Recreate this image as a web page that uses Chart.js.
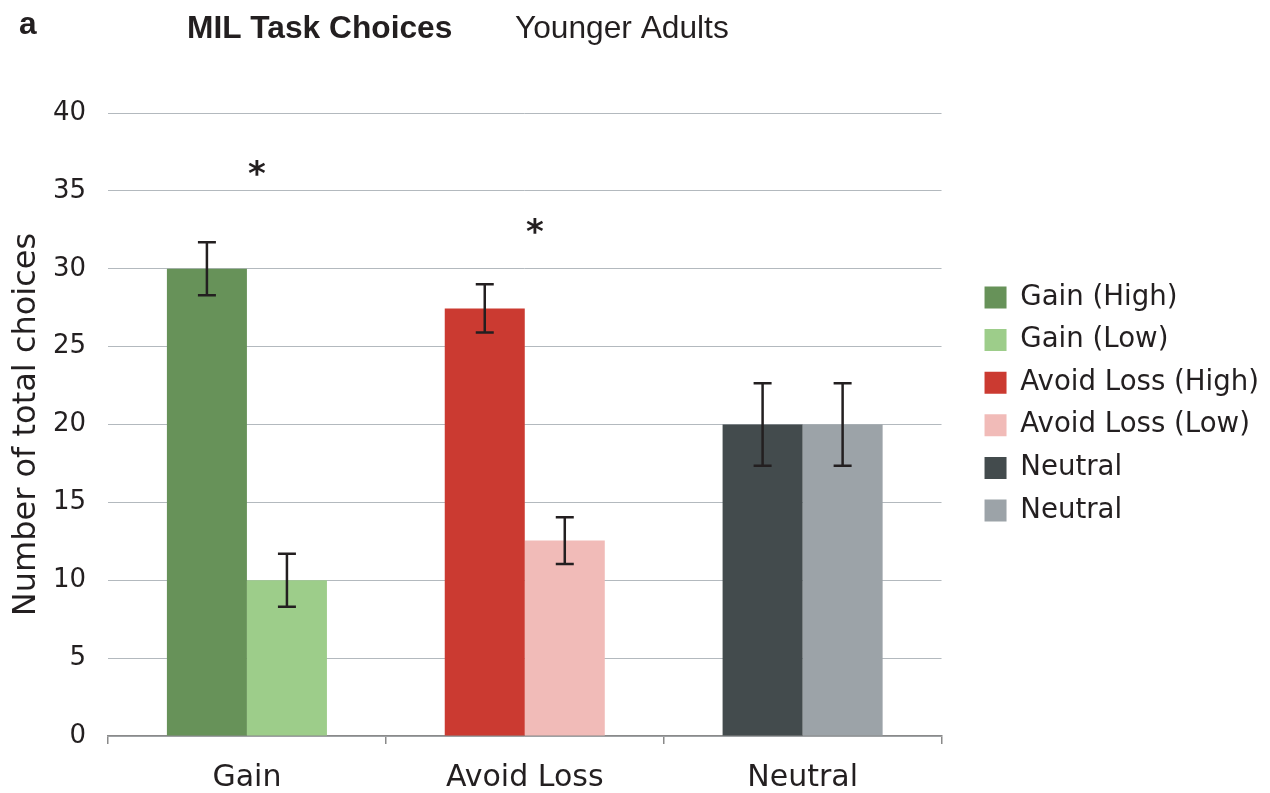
<!DOCTYPE html>
<html>
<head>
<meta charset="utf-8">
<script src="https://cdn.jsdelivr.net/npm/chart.js@4.4.1/dist/chart.umd.min.js"></script>
<style>
  html, body { margin: 0; padding: 0; background: #fff; }
  #wrap { width: 1270px; height: 793px; }
</style>
</head>
<body>
<div id="wrap"><canvas id="chart" width="1270" height="793"></canvas></div>
<script>
const categories = ['Gain', 'Avoid Loss', 'Neutral'];
const seriesLabels = ['Gain (High)', 'Gain (Low)', 'Avoid Loss (High)', 'Avoid Loss (Low)', 'Neutral', 'Neutral'];
const seriesColors = ['#679259', '#9dcd8a', '#cb3a31', '#f1bbb8', '#434b4d', '#9ca3a8'];

// one value per category, null where the series has no bar
const gainHigh = [30, null, null];
const gainLow = [10, null, null];
const lossHigh = [null, 27.45, null];
const lossLow = [null, 12.55, null];
const neutralA = [null, null, 20];
const neutralB = [null, null, 20];

const gainHighErr = [1.7, null, null];
const gainLowErr = [1.7, null, null];
const lossHighErr = [null, 1.55, null];
const lossLowErr = [null, 1.5, null];
const neutralAErr = [null, null, 2.65];
const neutralBErr = [null, null, 2.65];

const starValues = [36.3, 32.6, null];
const yTicks = [0, 5, 10, 15, 20, 25, 30, 35, 40];

const seriesValues = [gainHigh, gainLow, lossHigh, lossLow, neutralA, neutralB];
const seriesErrors = [gainHighErr, gainLowErr, lossHighErr, lossLowErr, neutralAErr, neutralBErr];

const TEXT = '#231f20';
const FONT = "'DejaVu Sans', Verdana, sans-serif";

const errorBars = {
    id: 'errorBars',
    afterDatasetsDraw(chart) {
        const ctx = chart.ctx;
        const y = chart.scales.y;
        ctx.save();
        ctx.strokeStyle = TEXT;
        ctx.lineWidth = 2.5;
        seriesErrors.forEach((errs, i) => {
            const meta = chart.getDatasetMeta(i);
            errs.forEach((e, j) => {
                const v = seriesValues[i][j];
                if (e == null || v == null) return;
                const x = meta.data[j].x;
                const top = y.getPixelForValue(v + e);
                const bot = y.getPixelForValue(v - e);
                ctx.beginPath();
                ctx.moveTo(x, top); ctx.lineTo(x, bot);
                ctx.moveTo(x - 9, top); ctx.lineTo(x + 9, top);
                ctx.moveTo(x - 9, bot); ctx.lineTo(x + 9, bot);
                ctx.stroke();
            });
        });
        // significance stars
        const xs = chart.scales.x;
        ctx.fillStyle = TEXT;
        ctx.font = 'bold 34px ' + FONT;
        ctx.textAlign = 'center';
        ctx.textBaseline = 'middle';
        starValues.forEach((s, j) => {
            if (s == null) return;
            ctx.fillText('*', xs.getPixelForValue(j) + 10, y.getPixelForValue(s) + 6);
        });
        ctx.restore();
    }
};

const header = {
    id: 'header',
    afterDraw(chart) {
        const ctx = chart.ctx;
        ctx.save();
        ctx.fillStyle = TEXT;
        ctx.textBaseline = 'alphabetic';
        ctx.textAlign = 'left';
        ctx.font = "bold 31.7px 'Liberation Sans', Arial, sans-serif";
        ctx.fillText('a', 19, 34);
        ctx.fillText('MIL Task Choices', 187, 38);
        ctx.font = "31.7px 'Liberation Sans', Arial, sans-serif";
        ctx.fillText('Younger Adults', 515, 38);
        ctx.restore();
    }
};

new Chart(document.getElementById('chart'), {
    type: 'bar',
    data: {
        labels: categories,
        datasets: seriesLabels.map((label, i) => ({
            label,
            data: seriesValues[i],
            backgroundColor: seriesColors[i],
            borderWidth: 0,
            skipNull: true,
            categoryPercentage: 0.576,
            barPercentage: 1.0
        }))
    },
    options: {
        responsive: false,
        animation: false,
        layout: { padding: { top: 15, left: 0, right: 1, bottom: 0 } },
        plugins: {
            title: {
                display: true,
                text: ' ',
                font: { size: 31 },
                padding: { top: 0, bottom: 60.8 }
            },
            legend: {
                position: 'right',
                align: 'center',
                maxWidth: 330,
                labels: {
                    boxWidth: 22,
                    boxHeight: 22,
                    padding: 15,
                    color: TEXT,
                    font: { family: FONT, size: 27.6 }
                }
            },
            tooltip: { enabled: false }
        },
        scales: {
            x: {
                grid: {
                    offset: true,
                    drawOnChartArea: false,
                    drawTicks: true,
                    tickLength: 8,
                    color: '#8a8a8a',
                    lineWidth: 1.5
                },
                border: { display: true, color: '#8a8a8a', width: 1.5 },
                ticks: { color: TEXT, padding: 16, font: { family: FONT, size: 30 } },
                afterFit: s => { s.height = 57; }
            },
            y: {
                min: 0,
                max: 40,
                afterBuildTicks: s => { s.ticks = yTicks.map(v => ({ value: v })); },
                grid: { drawTicks: false, color: '#b3b9be', lineWidth: 1 },
                border: { display: false },
                ticks: { color: TEXT, padding: 22, font: { family: FONT, size: 26 } },
                title: {
                    display: true,
                    text: 'Number of total choices',
                    color: TEXT,
                    font: { family: FONT, size: 32 },
                    padding: { top: 7, bottom: 0 }
                },
                afterFit: s => { s.width = 108; }
            },
            spacer: {
                position: 'right',
                display: true,
                grid: { display: false },
                border: { display: false },
                ticks: { display: false },
                afterFit: s => { s.width = 28; }
            }
        }
    },
    plugins: [errorBars, header]
});
</script>
</body>
</html>
